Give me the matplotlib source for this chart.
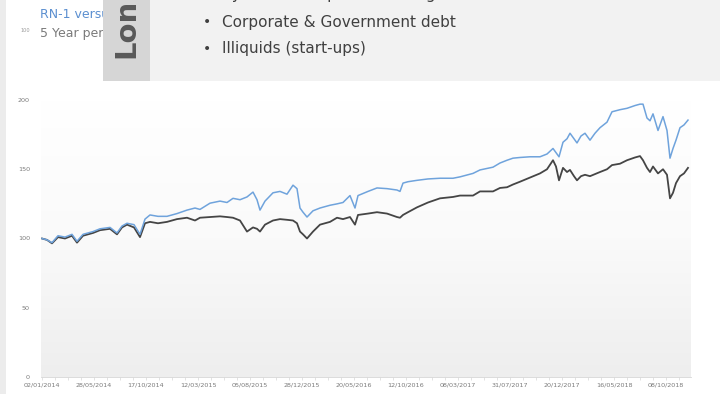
import numpy as np
import matplotlib.pyplot as plt
from matplotlib.colors import LinearSegmentedColormap
from matplotlib.patches import Rectangle

# trading-day index and the two rebased series (start = 100)
days = [0, 10, 20, 32, 46, 60, 70, 82, 102, 116, 136, 150, 160, 170, 184, 196,
        206, 216, 232, 250, 270, 290, 306, 316, 336, 356, 370, 382, 396, 410,
        422, 430, 436, 446, 462, 476, 490, 502, 510, 516, 522, 530, 542, 556,
        576, 590, 602, 616, 626, 632, 652, 670, 690, 710, 716, 722, 732, 750,
        772, 796, 822, 836, 862, 876, 902, 916, 930, 942, 956, 976, 996, 1010,
        1022, 1028, 1034, 1042, 1050, 1056, 1064, 1070, 1078, 1086, 1096, 1106,
        1116, 1130, 1140, 1156, 1170, 1186, 1196, 1202, 1210, 1216, 1222, 1232,
        1242, 1250, 1256, 1262, 1268, 1276, 1284, 1292]
rn1 = [100, 99, 97, 102, 101, 103, 98, 103, 105, 107, 108, 104, 109, 111, 110, 103,
       114, 117, 116, 116, 118, 120.5, 122, 121, 125.5, 127, 126, 129, 128, 130,
       133.5, 128, 120.5, 127, 133, 134, 132, 138.5, 136, 122, 119, 115.5, 120, 122,
       124, 125, 126, 131, 122, 131, 134, 136.5, 136, 135, 134, 140, 141, 142,
       143, 143.5, 143.5, 144.5, 147, 149.5, 151.5, 154.5, 156.5, 158, 158.5, 159, 159, 161,
       165, 162, 159, 169.5, 172, 176, 172, 169, 174, 176, 171, 176,
       180, 184, 191.5, 193, 194, 196, 197, 197, 187, 185, 190, 178,
       188, 178, 158, 165, 171, 180, 182, 185.5]
bench = [100, 99, 96.5, 101, 100, 102, 97, 102, 104, 106, 107, 103, 108, 110, 108, 101,
         111, 112, 111, 112, 114, 115, 113, 115, 115.5, 116, 115.5, 115, 113, 105,
         108, 107, 105, 110, 113, 114, 113.5, 113, 111, 105, 103, 100, 105, 110,
         112, 115, 114, 115.5, 110, 117, 118, 119, 118, 115.5, 115, 117, 119, 122.5,
         126, 129, 130, 131, 131, 134, 134, 136.5, 137, 139, 141, 144, 147, 150,
         156.5, 152, 142, 151, 148, 149.5, 145, 142, 145, 146, 145, 146.5,
         148, 150, 153, 154, 156.5, 158.5, 159.5, 156.5, 151, 148, 152, 147,
         150, 146, 129, 133, 140, 145, 147, 151]

tick_days = [0, 104, 208, 312, 416, 520, 624, 728, 832, 936, 1040, 1144, 1248]
tick_labels = ['02/01/2014', '28/05/2014', '17/10/2014', '12/03/2015', '05/08/2015',
               '28/12/2015', '20/05/2016', '12/10/2016', '08/03/2017', '31/07/2017',
               '20/12/2017', '16/05/2018', '08/10/2018']
y_ticks = [0, 50, 100, 150, 200]

bullets = ['Systematic equities with rigid mandate',
           'Corporate & Government debt',
           'Illiquids (start-ups)']

fig = plt.figure(figsize=(7.2, 3.94), dpi=100)
W, H = 720, 394

ax = fig.add_axes([41 / W, 17 / H, 650 / W, 277 / H])

# plot area fades from white at the top to light grey at the bottom
grad = LinearSegmentedColormap.from_list('plotbg', ['#ffffff', '#fafafa', '#eeeeee'])
ax.imshow(np.linspace(1, 0, 256).reshape(-1, 1), cmap=grad, aspect='auto',
          extent=[-2, 1298, 0, 200], origin='lower', zorder=0)
ax.set_xlim(-2, 1298)
ax.set_ylim(0, 200)

ax.plot(days, rn1, color='#6fa3dc', lw=1.1, zorder=3)
ax.plot(days, bench, color='#454545', lw=1.3, zorder=2)

for s in ['top', 'right', 'left']:
    ax.spines[s].set_visible(False)
ax.spines['bottom'].set_color('#d6d6d6')
ax.spines['bottom'].set_linewidth(0.6)

ax.set_xticks(tick_days)
ax.set_xticklabels(tick_labels, fontsize=4.6, color='#7a7a7a')
ax.set_xticks(np.arange(0, 1298, 26), minor=True)
ax.tick_params(axis='x', which='both', length=2, width=0.5, color='#d6d6d6', pad=2)
ax.set_yticks(y_ticks)
ax.set_yticklabels([str(v) for v in y_ticks], fontsize=4.6, color='#7a7a7a')
ax.tick_params(axis='y', length=0, pad=8)

# slide title, partly hidden behind the overlay box
title_clip = Rectangle((0, 0), 103, H, transform=None)
t1 = fig.text(40 / W, 1 - 15 / H, 'RN-1 versus benchmark', fontsize=9,
              color='#5b8fd0', va='center', zorder=2)
t2 = fig.text(40 / W, 1 - 33 / H, '5 Year performance', fontsize=9,
              color='#7a7a7a', va='center', zorder=2)
for t in (t1, t2):
    t.set_clip_path(title_clip)
fig.text(30 / W, 1 - 31 / H, '100', fontsize=3.6, color='#9a9a9a',
         ha='right', va='center', zorder=2)

# left slide edge
fig.patches.append(Rectangle((0, 0), 6 / W, 1, transform=fig.transFigure,
                             facecolor='#ececec', edgecolor='none', zorder=1))

# overlay box with the rotated heading
fig.patches.append(Rectangle((103 / W, 1 - 81 / H), 617 / W, 81 / H,
                             transform=fig.transFigure, facecolor='#f2f2f2',
                             edgecolor='none', zorder=5))
fig.patches.append(Rectangle((103 / W, 1 - 81 / H), 47 / W, 81 / H,
                             transform=fig.transFigure, facecolor='#d6d6d6',
                             edgecolor='none', zorder=6))
fig.text(126 / W, 1 - 58 / H, 'Lon', rotation=90, fontsize=21, fontweight='bold',
         color='#595959', ha='center', va='bottom', zorder=7)

bullet_y = [-6, 22, 49]
for b, yp in zip(bullets, bullet_y):
    y = 1 - yp / H
    fig.text(203 / W, y, '•', fontsize=10, color='#404040', va='center', zorder=7)
    fig.text(222 / W, y, b, fontsize=11, color='#404040', va='center', zorder=7)

fig.savefig('out.png', dpi=100)
